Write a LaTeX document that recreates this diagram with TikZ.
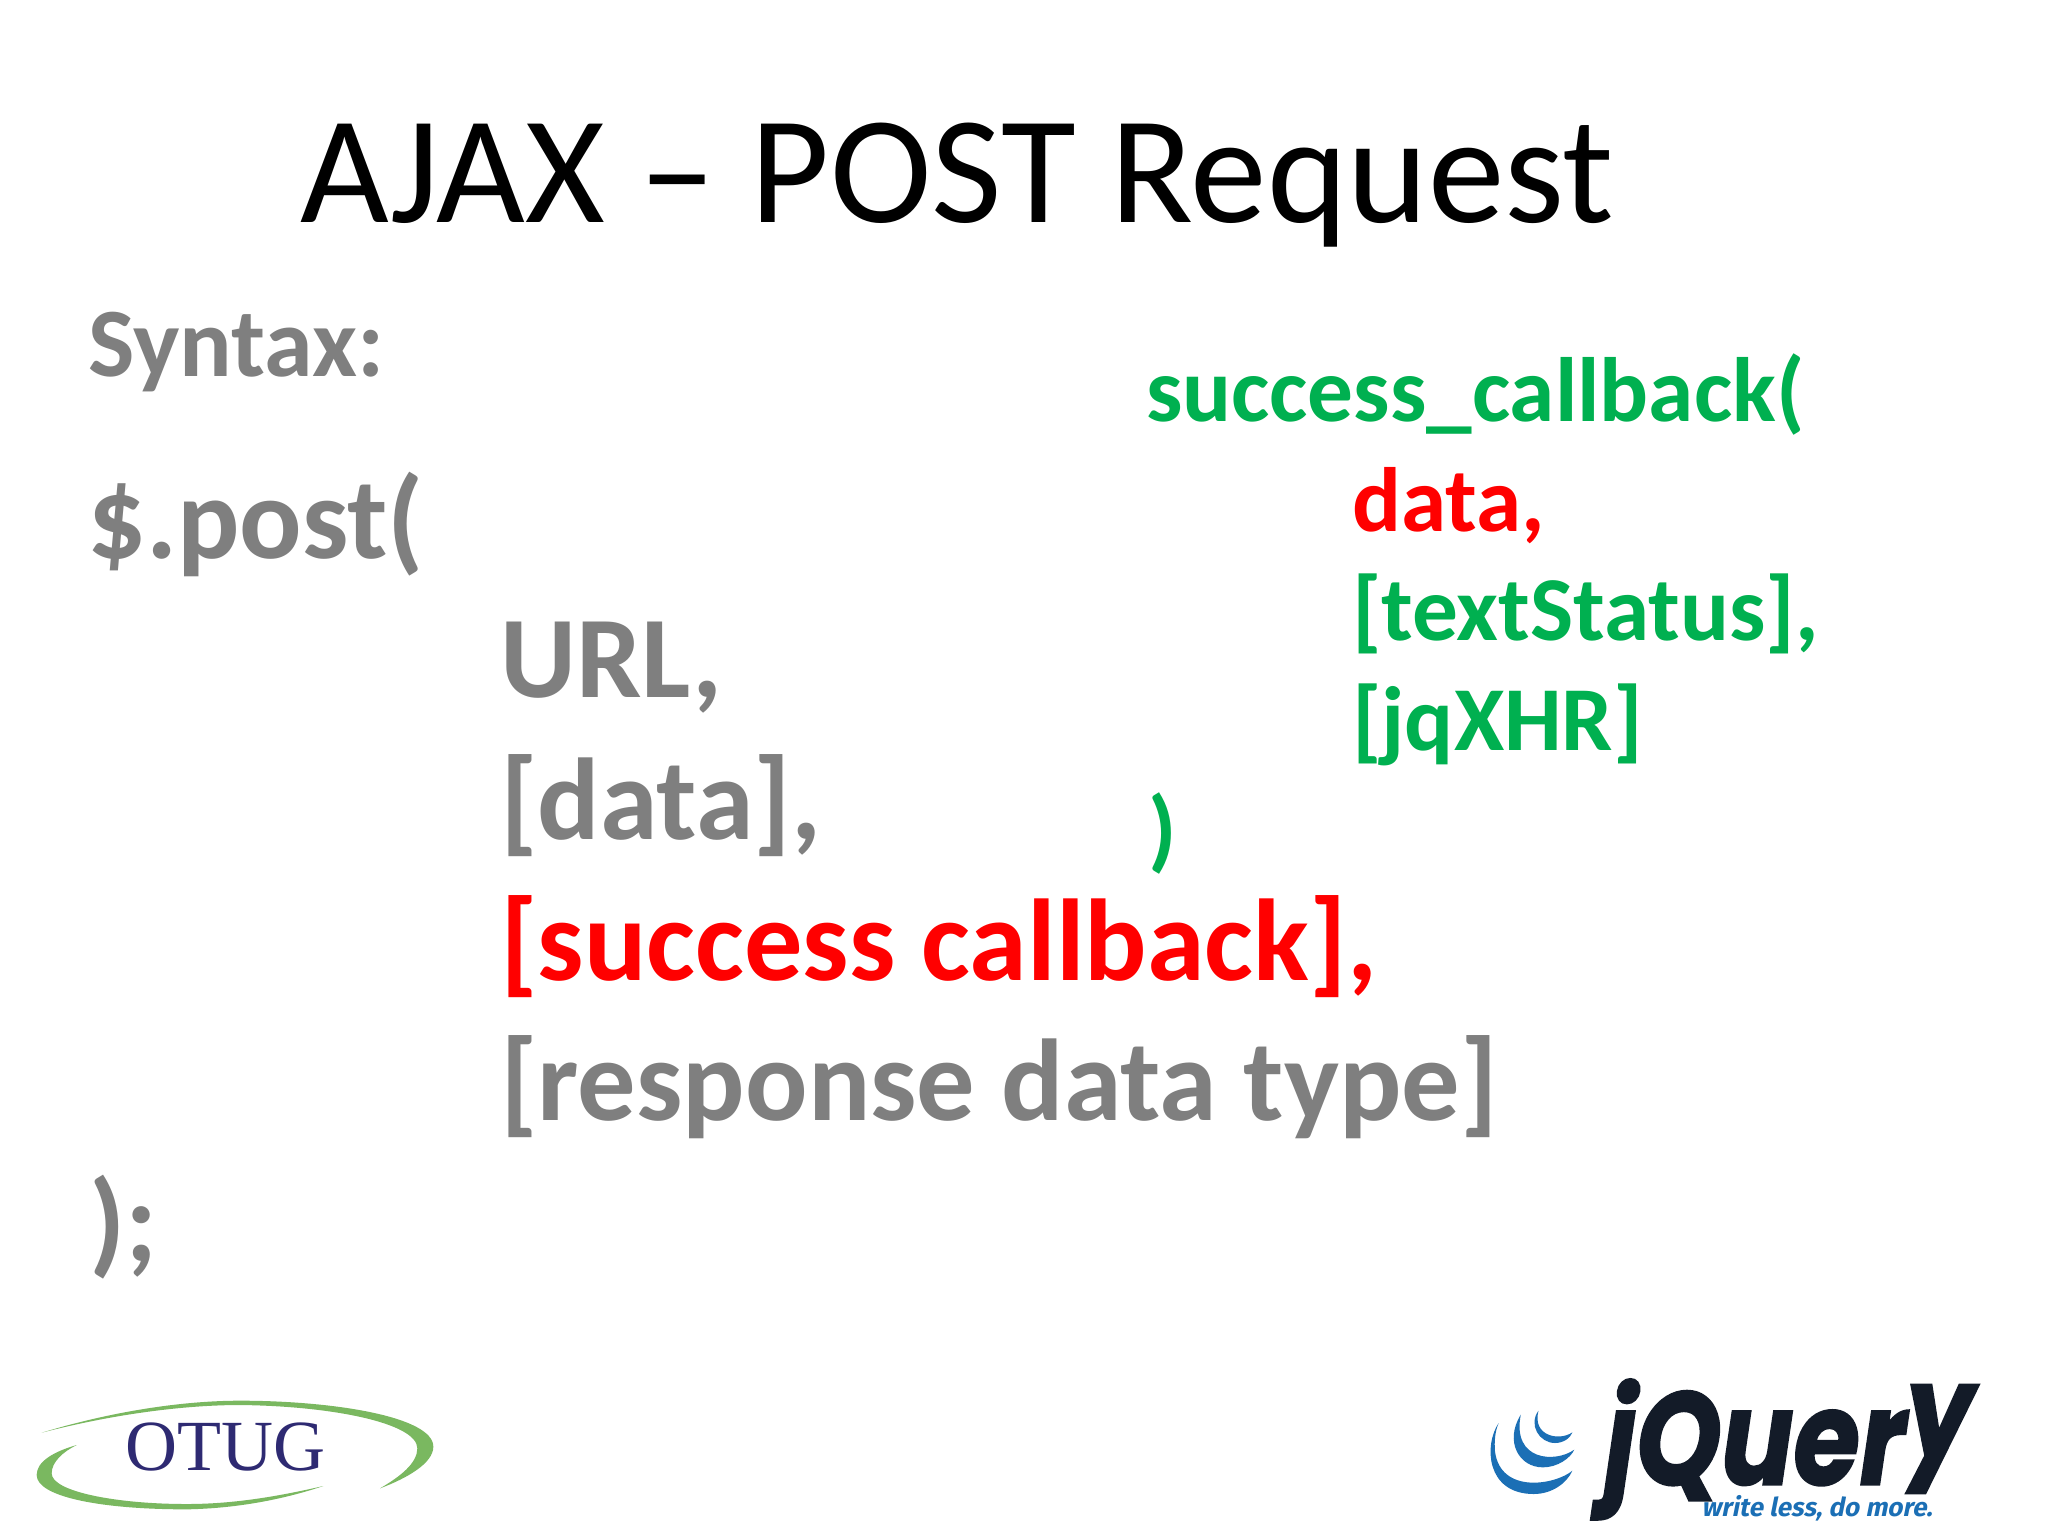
\documentclass[tikz,border=0pt]{standalone}
\usepackage{fontspec}
\setmainfont{Carlito}
\newfontfamily\logoserif{Liberation Serif}
\newfontfamily\logoheavy[FakeSlant=0.18,FakeBold=1.5]{Poppins Bold}
\newfontfamily\logoblue[FakeSlant=0.2]{Fira Sans Bold}
\definecolor{cgray}{HTML}{7F7F7F}
\definecolor{cgreen}{HTML}{00B050}
\definecolor{cred}{HTML}{FF0000}
\definecolor{swoosh}{HTML}{7AB860}
\definecolor{otug}{HTML}{2E2A72}
\definecolor{jqdark}{HTML}{131B28}
\definecolor{jqblue}{HTML}{1B6FB5}
\tikzset{
  txt/.style={anchor=base west,inner sep=0pt,outer sep=0pt},
  titletxt/.style={txt,font=\fontsize{115}{120}\selectfont,text=black},
  bigtxt/.style={txt,font=\fontsize{87.3}{90}\bfseries\selectfont,text=cgray},
  midtxt/.style={txt,font=\fontsize{68.5}{72}\bfseries\selectfont,text=cgreen},
}
\begin{document}
\begin{tikzpicture}[x=0.75pt,y=-0.75pt]
\useasboundingbox[fill=white] (0,0) rectangle (2048,1536);
\node[titletxt] (title) at (300,222) {AJAX – POST Request};
\node[midtxt,text=cgray,font=\fontsize{73.6}{76}\bfseries\selectfont] (syntax) at (88,376) {Syntax:};
\node[bigtxt] (post) at (87,558) {\$.post(};
\node[bigtxt] (url) at (500,697) {URL,};
\node[bigtxt] (data) at (500,839) {[data],};
\node[bigtxt,text=cred] (succ) at (500,980) {[success callback],};
\node[bigtxt] (resp) at (500,1120) {[response data type]};
\node[bigtxt] (close) at (89,1261) {);};
\node[midtxt] (cb) at (1146,421) {success\_callback(};
\node[midtxt,text=cred] (d2) at (1352,531) {data,};
\node[midtxt] (ts) at (1352,640) {[textStatus],};
\node[midtxt] (jq) at (1352,750) {[jqXHR]};
\node[midtxt] (cl2) at (1148,860) {)};
% OTUG logo
\begin{scope}[x=0.25pt,y=-0.25pt,shift={(0,4140)}]
\fill[swoosh] (125,158) .. controls (350,90) and (560,62) .. (720,62)
  .. controls (1000,62) and (1300,110) .. (1300,200)
  .. controls (1300,250) and (1220,295) .. (1140,325)
  .. controls (1200,290) and (1252,250) .. (1252,205)
  .. controls (1252,130) and (1000,78) .. (720,75)
  .. controls (560,75) and (350,100) .. (125,158) -- cycle;
\fill[swoosh] (230,195) .. controls (160,215) and (110,245) .. (110,285)
  .. controls (110,350) and (300,388) .. (560,388)
  .. controls (720,385) and (860,355) .. (970,318)
  .. controls (830,350) and (700,372) .. (560,372)
  .. controls (350,372) and (155,335) .. (155,280)
  .. controls (155,245) and (190,215) .. (230,195) -- cycle;
\node[anchor=base west,inner sep=0pt,text=otug,font=\logoserif\fontsize{54}{60}\selectfont] (otugt) at (375,272) {OTUG};
\end{scope}
% jQuery logo
\begin{scope}[x=0.2765pt,y=-0.25pt,shift={(3970,4144)}]
\fill[jqblue] (95,125) .. controls (55,190) and (60,338) .. (190,338)
  .. controls (240,338) and (280,305) .. (295,268)
  .. controls (250,310) and (100,340) .. (85,210)
  .. controls (83,180) and (85,150) .. (95,125) -- cycle;
\fill[jqblue] (155,100) .. controls (110,180) and (150,258) .. (215,258)
  .. controls (255,258) and (290,230) .. (300,205)
  .. controls (250,245) and (130,240) .. (155,100) -- cycle;
\fill[jqblue] (203,88) .. controls (175,130) and (205,185) .. (248,185)
  .. controls (270,185) and (290,170) .. (295,153)
  .. controls (260,180) and (185,165) .. (203,88) -- cycle;
\node[anchor=base west,inner sep=0pt,text=jqdark,font=\logoheavy\fontsize{99}{100}\selectfont,xscale=0.815,transform shape] (jqt) at (367,310) {jQuer\raisebox{0.2em}{y}};
\node[anchor=base west,inner sep=0pt,text=jqblue,font=\logoblue\fontsize{19.5}{24}\selectfont] (wl) at (645,404) {write less, do more.};
\end{scope}
\end{tikzpicture}
\end{document}
